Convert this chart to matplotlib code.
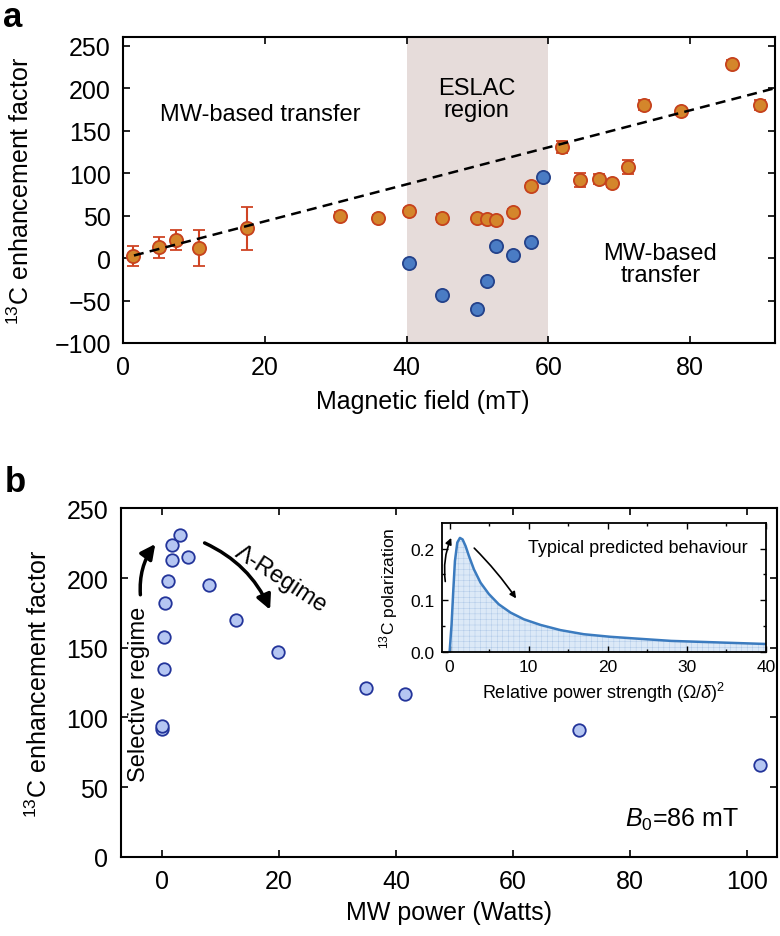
import numpy as np
import matplotlib
matplotlib.use('Agg')
import matplotlib.pyplot as plt

plt.rcParams['font.family'] = ['Liberation Sans', 'DejaVu Sans']
plt.rcParams['mathtext.fontset'] = 'custom'
plt.rcParams['mathtext.rm'] = 'Liberation Sans'
plt.rcParams['mathtext.it'] = 'Liberation Sans:italic'
plt.rcParams['hatch.linewidth'] = 0.3

# ---- panel a: enhancement vs magnetic field ----
field_mw = [1.4, 5.1, 7.4, 10.7, 17.5, 30.6, 36.0, 40.4, 45.0, 50.0, 51.4, 52.6,
            55.0, 57.5, 61.9, 64.4, 67.1, 69.0, 71.3, 73.5, 78.7, 85.9, 89.9]
enh_mw = [2.7, 12.6, 21, 12, 35, 50, 47.5, 55.7, 47, 47, 46, 45,
          54.5, 85, 131, 92, 93, 88, 107, 180, 173, 229, 180]
err_mw = [12, 12, 12, 21, 25, 4, 3, 3, 5, 3, 3, 3,
          3, 3, 7, 8, 6, 4, 8, 6, 3, 4, 6]

field_eslac = [40.4, 45.0, 50.0, 51.4, 52.6, 55.0, 57.5, 59.2]
enh_eslac = [-6, -44, -60, -27, 14.5, 4, 18.5, 95]

fit_x = [1.5, 92]
fit_y = [3, 200]

eslac_span = (40, 60)

# ---- panel b: enhancement vs MW power ----
power = [0, 0, 0.37, 0.37, 0.6, 1.05, 1.73, 1.73, 3.2, 4.45, 8.0, 12.7,
         19.9, 34.9, 41.6, 71.2, 102.1]
enh_power = [92, 94, 135, 158, 182, 198, 213, 224, 231, 215, 195, 170,
             147, 121, 117, 91, 66]

# ---- inset: predicted behaviour ----
rel_power = [0, 0.25, 0.46, 0.67, 0.97, 1.3, 1.64, 2.02, 2.44, 3.07, 3.91,
             4.96, 6.22, 7.7, 9.38, 11.5, 14.0, 16.95, 20.3, 24.1, 28, 32,
             36, 40]
pol = [0, 0.054, 0.118, 0.176, 0.212, 0.221, 0.218, 0.205, 0.186, 0.16, 0.134,
       0.112, 0.092, 0.076, 0.063, 0.052, 0.042, 0.034, 0.029, 0.025, 0.021,
       0.019, 0.017, 0.015]

fig = plt.figure(figsize=(7.8, 9.37), dpi=100)

tick_kw = dict(direction='in', top=True, right=True, length=5, width=1.2,
               labelsize=18)

# panel a
ax = fig.add_axes([0.1581, 0.6329, 0.8355, 0.3263])
ax.axvspan(*eslac_span, color='#e6dcda', lw=0, zorder=0)
ax.errorbar(field_mw, enh_mw, yerr=err_mw, fmt='o', ms=9.5, mfc='#d4862b',
            mec='#c6421d', mew=1.3, ecolor='#cf4424', elinewidth=1.5,
            capsize=4, capthick=1.5, zorder=3)
ax.plot(field_eslac, enh_eslac, 'o', ms=9.5, mfc='#4a7cc4', mec='#24428a',
        mew=1.3, zorder=3)
ax.plot(fit_x, fit_y, color='k', lw=1.8, ls=(0, (4, 2.5)), zorder=4)
ax.set_xlim(0, 92)
ax.set_ylim(-100, 260)
ax.set_xticks([0, 20, 40, 60, 80])
ax.set_yticks(np.arange(-100, 251, 50))
ax.tick_params(pad=9, **tick_kw)
for s in ax.spines.values():
    s.set_linewidth(1.5)
ax.set_xlabel('Magnetic field (mT)', fontsize=18)
ax.xaxis.set_label_coords(0.46, -0.15)
ax.set_ylabel('$^{13}$C enhancement factor', fontsize=18)
ax.yaxis.set_label_coords(-0.137, 0.5)
ax.text(19.3, 169.5, 'MW-based transfer', fontsize=17, ha='center', va='center')
ax.text(49.9, 187, 'ESLAC\nregion', fontsize=17, ha='center', va='center',
        linespacing=1.0)
ax.text(75.8, -7, 'MW-based\ntransfer', fontsize=17, ha='center', va='center',
        linespacing=1.0)
fig.text(3 / 780, 1 - 27 / 937, 'a', fontsize=25, fontweight='bold',
         ha='left', va='baseline')

# panel b
bx = fig.add_axes([0.1547, 0.0846, 0.841, 0.3718])
bx.plot(power, enh_power, 'o', ms=9, mfc='#b5c6f2', mec='#23349a', mew=1.3,
        zorder=3)
bx.set_xlim(-7, 105)
bx.set_ylim(0, 250)
bx.set_xticks([0, 20, 40, 60, 80, 100])
bx.set_yticks(np.arange(0, 251, 50))
bx.tick_params(pad=9, **tick_kw)
for s in bx.spines.values():
    s.set_linewidth(1.5)
bx.set_xlabel('MW power (Watts)', fontsize=18)
bx.xaxis.set_label_coords(0.5, -0.125)
bx.set_ylabel('$^{13}$C enhancement factor', fontsize=18)
bx.yaxis.set_label_coords(-0.105, 0.5)
bx.text(-3.8, 117.5, 'Selective regime', fontsize=17, rotation=90,
        ha='center', va='center')
bx.annotate('', xy=(-0.8, 226), xytext=(-3.6, 186),
            arrowprops=dict(arrowstyle='-|>', color='k', lw=2.5,
                            mutation_scale=22,
                            connectionstyle='arc3,rad=-0.2'))
bx.text(20.3, 199.4, 'Λ-Regime', fontsize=17, rotation=-33,
        ha='center', va='center')
bx.annotate('', xy=(18.7, 175.4), xytext=(6.9, 226),
            arrowprops=dict(arrowstyle='-|>', color='k', lw=2.5,
                            mutation_scale=22,
                            connectionstyle='arc3,rad=-0.2'))
bx.text(88.9, 27, '$B_0$=86 mT', fontsize=18, ha='center', va='center')
fig.text(5 / 780, 1 - 492 / 937, 'b', fontsize=25, fontweight='bold',
         ha='left', va='baseline')

# inset
ix = fig.add_axes([0.5663, 0.3034, 0.4158, 0.1374])
ix.fill_between(rel_power, pol, facecolor='#dce9f7', edgecolor='#a9c4e6',
                hatch='+++', lw=0, zorder=1)
ix.plot(rel_power, pol, color='#3b7bbf', lw=1.8, zorder=2)
ix.set_xlim(-1, 40)
ix.set_ylim(0, 0.25)
ix.set_xticks([0, 10, 20, 30, 40])
ix.set_xticks(np.arange(0, 41, 5), minor=True)
ix.set_yticks([0, 0.1, 0.2])
ix.set_yticks([0.05, 0.15], minor=True)
ix.yaxis.set_major_formatter(matplotlib.ticker.FormatStrFormatter('%.1f'))
ix.tick_params(which='both', direction='in', top=True, right=True, width=1.0)
ix.tick_params(which='major', length=4, labelsize=12.5, pad=5)
ix.tick_params(which='minor', length=2.5)
for s in ix.spines.values():
    s.set_linewidth(1.3)
ix.set_xlabel('Relative power strength (Ω/$\\delta$)$^2$', fontsize=13)
ix.xaxis.set_label_coords(0.5, -0.22)
ix.set_ylabel('$^{13}$C polarization', fontsize=12.5)
ix.yaxis.set_label_coords(-0.13, 0.5)
ix.text(37.7, 0.2025, 'Typical predicted behaviour', fontsize=13,
        ha='right', va='center')
ix.annotate('', xy=(0.34, 0.226), xytext=(-0.5, 0.131),
            arrowprops=dict(arrowstyle='-|>', color='k', lw=1.2,
                            mutation_scale=9,
                            connectionstyle='arc3,rad=-0.15'))
ix.annotate('', xy=(8.6, 0.099), xytext=(2.86, 0.205),
            arrowprops=dict(arrowstyle='-|>', color='k', lw=1.2,
                            mutation_scale=9,
                            connectionstyle='arc3,rad=-0.05'))

fig.savefig('out.png', dpi=100)
